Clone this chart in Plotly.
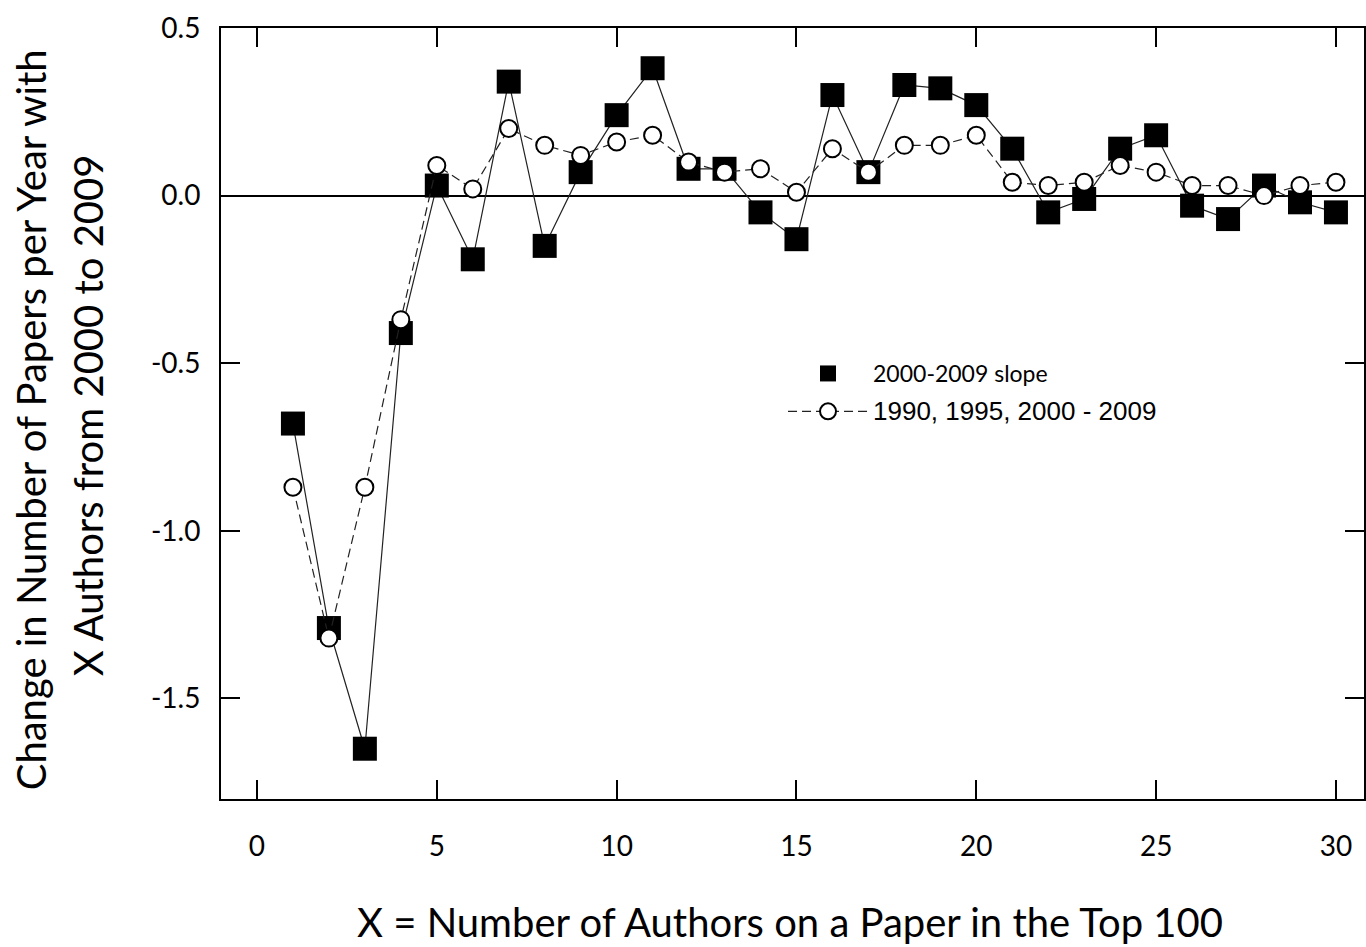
import plotly.graph_objects as go

authors = list(range(1, 31))
slope_2000_2009 = [-0.68, -1.29, -1.65, -0.41, 0.03, -0.19, 0.34, -0.15, 0.07, 0.24,
                   0.38, 0.08, 0.08, -0.05, -0.13, 0.30, 0.07, 0.33, 0.32, 0.27,
                   0.14, -0.05, -0.01, 0.14, 0.18, -0.03, -0.07, 0.03, -0.02, -0.05]
slope_1990_2009 = [-0.87, -1.32, -0.87, -0.37, 0.09, 0.02, 0.20, 0.15, 0.12, 0.16,
                   0.18, 0.10, 0.07, 0.08, 0.01, 0.14, 0.07, 0.15, 0.15, 0.18,
                   0.04, 0.03, 0.04, 0.09, 0.07, 0.03, 0.03, 0.00, 0.03, 0.04]
x_ticks = [0, 5, 10, 15, 20, 25, 30]
y_ticks = [0.5, 0.0, -0.5, -1.0, -1.5]
y_tick_labels = ["0.5", "0.0", "-0.5", "-1.0", "-1.5"]

FONT = "Lato"
W, H = 1366, 947
L, T, B = 221, 28, 148
plot_w = W - L
plot_h = H - T - B

fig = go.Figure()
fig.add_trace(go.Scatter(
    x=authors, y=slope_2000_2009, mode="lines",
    line=dict(color="#222222", width=1.2), showlegend=False, hoverinfo="skip"))
fig.add_trace(go.Scatter(
    x=authors, y=slope_2000_2009, mode="markers", name="2000-2009 slope",
    marker=dict(symbol="square", size=24, color="black", line=dict(width=0)),
    legendgroup="a"))
fig.add_trace(go.Scatter(
    x=authors, y=slope_1990_2009, mode="lines+markers",
    name="<span style='font-family:Liberation Sans;font-size:26px'>1990, 1995, 2000 - 2009</span>",
    line=dict(color="#222222", width=1.2, dash="9px,5px"),
    marker=dict(symbol="circle", size=17, color="white", line=dict(color="black", width=2)),
    legendgroup="b"))

axis_common = dict(
    showline=True, linecolor="black", linewidth=2, mirror="ticks",
    ticks="inside", ticklen=19, tickwidth=2, tickcolor="black",
    showgrid=False, tickfont=dict(family=FONT, size=28, color="black"),
)
fig.update_xaxes(range=[-1.0, 30.78], tickvals=x_ticks, zeroline=False,
                 ticklabelstandoff=21, **axis_common)
fig.update_yaxes(range=[-1.8, 0.5], tickvals=y_ticks, ticktext=y_tick_labels,
                 zeroline=True, zerolinecolor="black", zerolinewidth=2,
                 ticklabelstandoff=13, **axis_common)

def px_x(p):
    return (p - L) / plot_w

def px_y(p):
    return (H - B - p) / plot_h

fig.add_annotation(text="Change in Number of Papers per Year with", textangle=-90,
                   xref="paper", yref="paper", x=px_x(31), y=px_y(420),
                   xanchor="center", yanchor="middle", showarrow=False,
                   font=dict(family=FONT, size=40, color="black"))
fig.add_annotation(text="X Authors from 2000 to 2009", textangle=-90,
                   xref="paper", yref="paper", x=px_x(88), y=px_y(415),
                   xanchor="center", yanchor="middle", showarrow=False,
                   font=dict(family=FONT, size=40, color="black"))
fig.add_annotation(text="X = Number of Authors on a Paper in the Top 100",
                   xref="paper", yref="paper", x=px_x(791), y=px_y(922),
                   xanchor="center", yanchor="middle", showarrow=False,
                   font=dict(family=FONT, size=40, color="black"))

fig.update_layout(
    width=W, height=H,
    margin=dict(l=L, r=0, t=T, b=B, pad=0),
    plot_bgcolor="white", paper_bgcolor="white",
    legend=dict(x=px_x(784), y=px_y(352), xanchor="left", yanchor="top",
                bgcolor="rgba(0,0,0,0)", tracegroupgap=5, itemwidth=80,
                font=dict(family=FONT, size=23, color="black")),
)
fig.write_html("out.html", config={"displayModeBar": False},
               post_script="document.body.style.margin='0';document.body.style.overflow='hidden';")
